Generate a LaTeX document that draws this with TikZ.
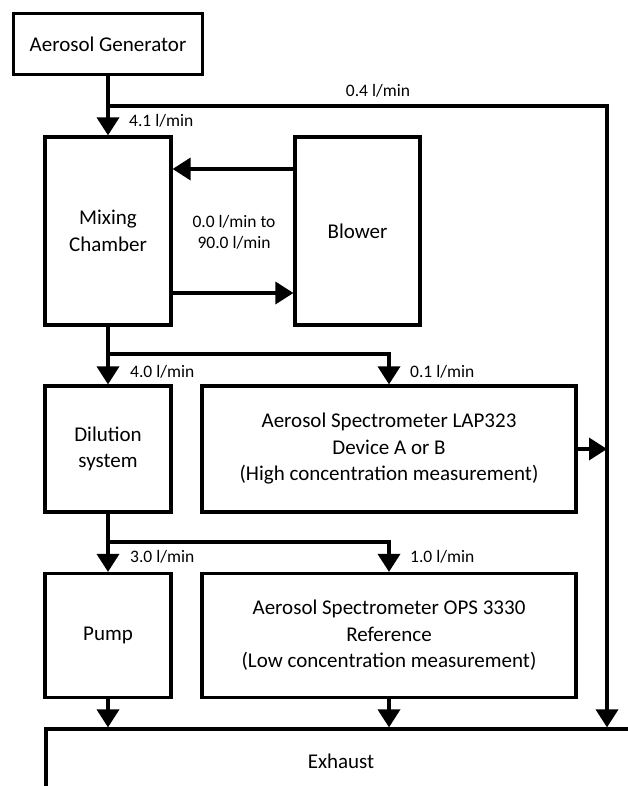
\documentclass[tikz,border=0pt]{standalone}
\usepackage{fontspec}
\setmainfont{Carlito}
\usetikzlibrary{arrows.meta}
\begin{document}
\begin{tikzpicture}[x=1pt,y=-1pt,
  box/.style={draw, line width=3.2pt, inner sep=0pt, align=center, font=\fontsize{21}{26.5}\selectfont},
  lbl/.style={font=\fontsize{17.5}{21}\selectfont, inner sep=0pt},
  pipe/.style={line width=3.6pt},
  flow/.style={line width=3.6pt, -{Triangle[width=22pt,length=18pt]}}]
\useasboundingbox (0,0) rectangle (628,786);
\clip (0,0) rectangle (628,786);
% boxes
\node[box, minimum width=189, minimum height=61] (gen) at (108,44) {Aerosol Generator};
\node[box, minimum width=126, minimum height=188] (mix) at (108,231) {Mixing\\Chamber};
\node[box, minimum width=125, minimum height=188] (blow) at (357.5,231) {Blower};
\node[box, minimum width=126, minimum height=126] (dil) at (108,449) {Dilution\\system};
\node[box, minimum width=374, minimum height=126] (lap) at (389,449) {Aerosol Spectrometer LAP323\\Device A or B\\(High concentration measurement)};
\node[box, minimum width=126, minimum height=124] (pump) at (108,635.5) {Pump};
\node[box, minimum width=374, minimum height=124] (ops) at (389,635.5) {Aerosol Spectrometer OPS 3330\\Reference\\(Low concentration measurement)};
\node[box, minimum width=590, minimum height=64] (exh) at (341,761) {Exhaust};
% junction points
\coordinate (b1) at (108,106);
\coordinate (rtop) at (607,106);
\coordinate (b2) at (108,354);
\coordinate (b3) at (108,542);
% connectors
\draw[flow] (gen) -- (mix);
\draw[flow] (b1) -- (rtop) -- (rtop |- exh.north);
\draw[flow] (blow.west |- 0,169) -- (mix.east |- 0,169);
\draw[flow] (mix.east |- 0,293) -- (blow.west |- 0,293);
\draw[flow] (mix) -- (dil);
\draw[flow] (b2) -- (b2 -| lap) -- (lap);
\draw[flow] (lap.east) -- (lap.east -| rtop);
\draw[flow] (dil) -- (pump);
\draw[flow] (b3) -- (b3 -| ops) -- (ops);
\draw[flow] (pump) -- (pump |- exh.north);
\draw[flow] (ops) -- (ops |- exh.north);
% labels
\node[lbl, anchor=base] (l04) at (378,97) {0.4 l/min};
\node[lbl, anchor=base west] (l41) at (129,127) {4.1 l/min};
\node[lbl, align=center] (lbf) at (234,232) {0.0 l/min to\\90.0 l/min};
\node[lbl, anchor=base west] (l40) at (130,377) {4.0 l/min};
\node[lbl, anchor=base west] (l01) at (410,377) {0.1 l/min};
\node[lbl, anchor=base west] (l30) at (130,562) {3.0 l/min};
\node[lbl, anchor=base west] (l10) at (410,562) {1.0 l/min};
\end{tikzpicture}
\end{document}
